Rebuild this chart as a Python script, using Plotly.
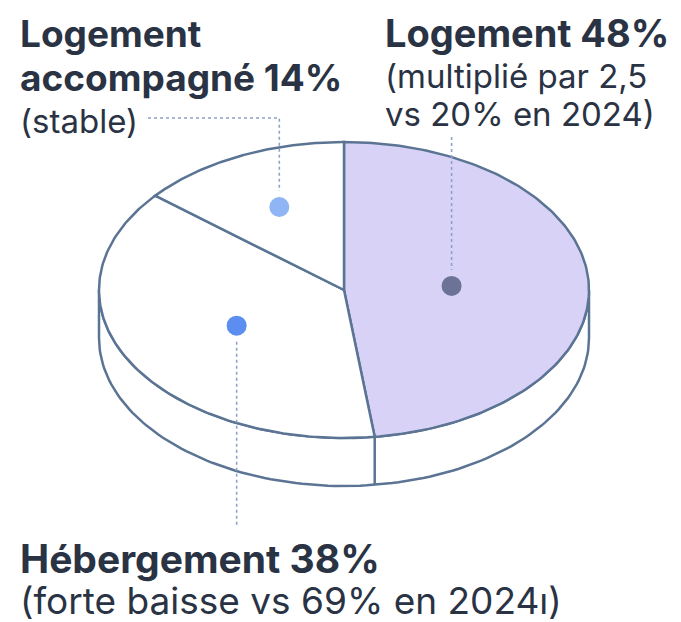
import numpy as np
import plotly.graph_objects as go

# Répartition des solutions (parts en %)
categories = ["Logement", "Hébergement", "Logement accompagné"]
shares = [48, 38, 14]
fills = ["#d8d3f6", "#ffffff", "#ffffff"]
dot_colors = ["#6d7396", "#5b8ef0", "#8fb5f4"]
dot_radius_frac = [0.44, 0.50, 0.62]

title_lines = {
    "Logement": ["Logement 48%"],
    "Hébergement": ["Hébergement 38%"],
    "Logement accompagné": ["Logement", "accompagné 14%"],
}
sub_lines = {
    "Logement": ["(multiplié par 2,5", "vs 20% en 2024)"],
    "Hébergement": ["(forte baisse vs 69% en 2024ı)"],
    "Logement accompagné": ["(stable)"],
}

W, H = 681, 622
CX, CY = 344, 290          # ellipse centre (px)
RX, RY = 245, 148          # ellipse radii (px)
DEPTH = 48                 # cylinder height (px)
EDGE = "#5b7494"
LEADER = "#8da2c6"
TEXT = "#2a3344"


def pt(theta_deg, frac=1.0, dy=0.0):
    t = np.radians(theta_deg)
    return CX + RX * frac * np.cos(t), CY - RY * frac * np.sin(t) + dy


fig = go.Figure()

# cylinder front wall
front = np.linspace(180, 360, 120)
tx, ty = pt(front)
bx, by = pt(front[::-1], dy=DEPTH)
fig.add_trace(go.Scatter(
    x=np.concatenate([tx, bx, tx[:1]]), y=np.concatenate([ty, by, ty[:1]]),
    mode="lines", fill="toself", fillcolor="#ffffff",
    line=dict(color=EDGE, width=2.5), hoverinfo="skip", showlegend=False))

# slice angles: Logement starts at top and runs clockwise,
# the others follow counter-clockwise from the top
angles = {}
start = 90.0
angles["Logement"] = (start - shares[0] * 3.6, start)
a0 = start
for name, s in [("Logement accompagné", shares[2]), ("Hébergement", shares[1])]:
    angles[name] = (a0, a0 + s * 3.6)
    a0 += s * 3.6

# divider on the wall where the Logement slice ends
div = angles["Logement"][0]
x1, y1 = pt(div)
x2, y2 = pt(div, dy=DEPTH)
fig.add_trace(go.Scatter(x=[x1, x2], y=[y1, y2], mode="lines",
                         line=dict(color=EDGE, width=2.5),
                         hoverinfo="skip", showlegend=False))

# top face slices
for name, fill in zip(categories, fills):
    lo, hi = angles[name]
    th = np.linspace(lo, hi, 160)
    ex, ey = pt(th)
    fig.add_trace(go.Scatter(
        x=np.concatenate([[CX], ex, [CX]]), y=np.concatenate([[CY], ey, [CY]]),
        mode="lines", fill="toself", fillcolor=fill,
        line=dict(color=EDGE, width=2.5), hoverinfo="skip", showlegend=False))

# label anchors inside each slice
dots = {}
for name, col, f in zip(categories, dot_colors, dot_radius_frac):
    lo, hi = angles[name]
    dots[name] = pt((lo + hi) / 2, f)

# dotted leaders to the labels
lx, ly = dots["Logement accompagné"]
fig.add_trace(go.Scatter(x=[148, lx, lx], y=[118, 118, ly - 16], mode="lines",
                         line=dict(color=LEADER, width=1.6, dash="dot"),
                         hoverinfo="skip", showlegend=False))
lx, ly = dots["Logement"]
fig.add_trace(go.Scatter(x=[lx, lx], y=[137, ly - 16], mode="lines",
                         line=dict(color=LEADER, width=1.6, dash="dot"),
                         hoverinfo="skip", showlegend=False))
lx, ly = dots["Hébergement"]
fig.add_trace(go.Scatter(x=[lx, lx], y=[ly + 16, 527], mode="lines",
                         line=dict(color=LEADER, width=1.6, dash="dot"),
                         hoverinfo="skip", showlegend=False))

for name, col in zip(categories, dot_colors):
    x, y = dots[name]
    fig.add_trace(go.Scatter(x=[x], y=[y], mode="markers",
                             marker=dict(size=20, color=col),
                             hoverinfo="skip", showlegend=False))

# text blocks: (x, first baseline, bold size, regular size, line gaps)
blocks = {
    "Logement accompagné": (18, 46, 37, 33, [44, 42]),
    "Logement": (383, 46, 38, 33, [41, 38]),
    "Hébergement": (18, 572, 39, 37, [41]),
}
for name, (x0, base, bsize, rsize, gaps) in blocks.items():
    lines = [(t, bsize, 700) for t in title_lines[name]] + \
            [(t, rsize, 400) for t in sub_lines[name]]
    for i, (line, size, weight) in enumerate(lines):
        fig.add_annotation(x=x0, y=base - 0.34 * size, text=line, showarrow=False,
                           xanchor="left", yanchor="middle",
                           font=dict(family="Inter", size=size, color=TEXT, weight=weight))
        if i < len(gaps):
            base += gaps[i]

fig.update_layout(
    width=W, height=H, margin=dict(l=0, r=0, t=0, b=0),
    paper_bgcolor="white", plot_bgcolor="white",
    xaxis=dict(range=[0, W], visible=False, fixedrange=True),
    yaxis=dict(range=[H, 0], visible=False, fixedrange=True),
)
fig.write_html("out.html")
